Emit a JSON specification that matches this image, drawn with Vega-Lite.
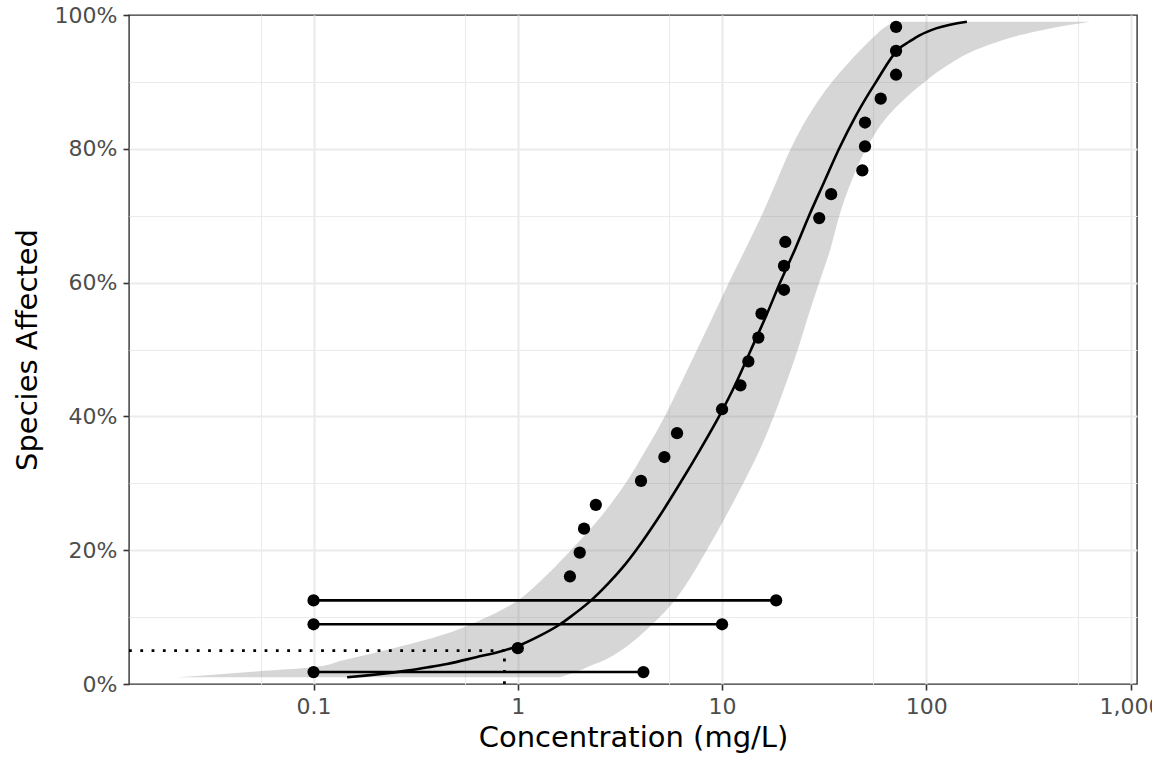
{
  "$schema": "https://vega.github.io/schema/vega-lite/v6.json",
  "width": 1008,
  "height": 669,
  "autosize": {"type": "none"},
  "padding": {"left": 129, "top": 15, "right": 15, "bottom": 84},
  "background": "white",
  "config": {
    "view": {"stroke": "#333333", "strokeWidth": 1.4},
    "font": "DejaVu Sans"
  },
  "datasets": {
    "ribbon": [
      {"p": 0.01, "lcl": 0.0214, "ucl": 1.6},
      {"p": 0.015, "lcl": 0.036, "ucl": 1.8},
      {"p": 0.02, "lcl": 0.06, "ucl": 2.0},
      {"p": 0.025, "lcl": 0.1, "ucl": 2.18},
      {"p": 0.035, "lcl": 0.138, "ucl": 2.63},
      {"p": 0.05, "lcl": 0.222, "ucl": 3.2},
      {"p": 0.075, "lcl": 0.446, "ucl": 4.06},
      {"p": 0.1, "lcl": 0.708, "ucl": 4.95},
      {"p": 0.125, "lcl": 1.0, "ucl": 5.86},
      {"p": 0.15, "lcl": 1.25, "ucl": 6.7},
      {"p": 0.2, "lcl": 1.82, "ucl": 8.41},
      {"p": 0.25, "lcl": 2.55, "ucl": 10.4},
      {"p": 0.3, "lcl": 3.37, "ucl": 12.7},
      {"p": 0.35, "lcl": 4.24, "ucl": 15.3},
      {"p": 0.4, "lcl": 5.24, "ucl": 17.9},
      {"p": 0.45, "lcl": 6.3, "ucl": 20.6},
      {"p": 0.5, "lcl": 7.55, "ucl": 23.5},
      {"p": 0.55, "lcl": 9.04, "ucl": 26.4},
      {"p": 0.6, "lcl": 10.8, "ucl": 29.9},
      {"p": 0.65, "lcl": 13.0, "ucl": 33.9},
      {"p": 0.7, "lcl": 15.6, "ucl": 37.5},
      {"p": 0.75, "lcl": 18.4, "ucl": 42.8},
      {"p": 0.8, "lcl": 21.7, "ucl": 50.8},
      {"p": 0.85, "lcl": 26.6, "ucl": 65.3},
      {"p": 0.9, "lcl": 34.5, "ucl": 98},
      {"p": 0.925, "lcl": 40.6, "ucl": 127},
      {"p": 0.95, "lcl": 48.4, "ucl": 181.5},
      {"p": 0.97, "lcl": 56.5, "ucl": 289},
      {"p": 0.98, "lcl": 61.4, "ucl": 403},
      {"p": 0.99, "lcl": 70, "ucl": 633}
    ],
    "curve": [
      {"conc": 0.146, "p": 0.01},
      {"conc": 0.1789, "p": 0.0125},
      {"conc": 0.2143, "p": 0.015},
      {"conc": 0.2871, "p": 0.02},
      {"conc": 0.3638, "p": 0.025},
      {"conc": 0.4506, "p": 0.03},
      {"conc": 0.6249, "p": 0.04},
      {"conc": 0.855, "p": 0.05},
      {"conc": 1.0034, "p": 0.057},
      {"conc": 1.243, "p": 0.07},
      {"conc": 1.611, "p": 0.0893},
      {"conc": 1.803, "p": 0.1},
      {"conc": 2.285, "p": 0.125},
      {"conc": 2.767, "p": 0.15},
      {"conc": 3.277, "p": 0.175},
      {"conc": 3.793, "p": 0.2},
      {"conc": 4.917, "p": 0.25},
      {"conc": 6.229, "p": 0.3},
      {"conc": 7.804, "p": 0.35},
      {"conc": 9.667, "p": 0.4},
      {"conc": 11.71, "p": 0.45},
      {"conc": 13.87, "p": 0.5},
      {"conc": 16.42, "p": 0.55},
      {"conc": 19.23, "p": 0.6},
      {"conc": 22.77, "p": 0.65},
      {"conc": 26.66, "p": 0.7},
      {"conc": 31.57, "p": 0.75},
      {"conc": 37.39, "p": 0.8},
      {"conc": 45.29, "p": 0.85},
      {"conc": 56.74, "p": 0.9},
      {"conc": 73.5, "p": 0.95},
      {"conc": 82.3, "p": 0.96},
      {"conc": 93.15, "p": 0.97},
      {"conc": 111.6, "p": 0.98},
      {"conc": 158, "p": 0.99}
    ],
    "points": [
      {"conc": 1.0, "p": 0.05357},
      {"conc": 1.80, "p": 0.16071},
      {"conc": 2.01, "p": 0.19643},
      {"conc": 2.11, "p": 0.23214},
      {"conc": 2.41, "p": 0.26786},
      {"conc": 4.01, "p": 0.30357},
      {"conc": 5.22, "p": 0.33929},
      {"conc": 6.02, "p": 0.375},
      {"conc": 10.0, "p": 0.41071},
      {"conc": 12.3, "p": 0.44643},
      {"conc": 13.45, "p": 0.48214},
      {"conc": 15.06, "p": 0.51786},
      {"conc": 15.6, "p": 0.55357},
      {"conc": 20.1, "p": 0.58929},
      {"conc": 20.1, "p": 0.625},
      {"conc": 20.4, "p": 0.66071},
      {"conc": 29.9, "p": 0.69643},
      {"conc": 34.2, "p": 0.73214},
      {"conc": 48.6, "p": 0.76786},
      {"conc": 50.1, "p": 0.80357},
      {"conc": 50.1, "p": 0.83929},
      {"conc": 59.8, "p": 0.875},
      {"conc": 71.1, "p": 0.91071},
      {"conc": 71.1, "p": 0.94643},
      {"conc": 71.1, "p": 0.98214}
    ],
    "censored": [
      {"left": 0.1, "right": 4.12, "p": 0.01786},
      {"left": 0.1, "right": 10.0, "p": 0.08929},
      {"left": 0.1, "right": 18.4, "p": 0.125}
    ],
    "hc": [
      {"start": 0.01249, "hc5": 0.86, "p0": 0, "p": 0.05}
    ]
  },
  "layer": [
    {
      "data": {"name": "ribbon"},
      "mark": {"type": "area", "orient": "horizontal", "interpolate": "monotone", "color": "#777777", "opacity": 0.3},
      "encoding": {
        "y": {
          "field": "p", "type": "quantitative",
          "scale": {"type": "linear", "domain": [0, 1], "nice": false, "zero": false},
          "title": "Species Affected",
          "axis": {
            "values": [0, 0.1, 0.2, 0.3, 0.4, 0.5, 0.6, 0.7, 0.8, 0.9, 1],
            "format": ".0%",
            "labelExpr": "indexof([0, 0.2, 0.4, 0.6, 0.8, 1], datum.value) >= 0 ? datum.label : ''",
            "domain": false,
            "grid": true,
            "gridColor": "#EBEBEB",
            "gridWidth": {"condition": {"test": "indexof([0, 0.2, 0.4, 0.6, 0.8, 1], datum.value) >= 0", "value": 2.2}, "value": 1.1},
            "gridOpacity": {"condition": {"test": "datum.value == 0 || datum.value == 1", "value": 0}, "value": 1},
            "tickColor": "#333333",
            "tickWidth": 1.6,
            "tickSize": 6,
            "tickOpacity": {"condition": {"test": "indexof([0, 0.2, 0.4, 0.6, 0.8, 1], datum.value) >= 0", "value": 1}, "value": 0},
            "labelFont": "DejaVu Sans",
            "labelFontSize": 22,
            "labelColor": "#4D4D4D",
            "labelPadding": 6,
            "labelOverlap": false,
            "labelFlush": false,
            "labelBound": false,
            "titleFont": "DejaVu Sans",
            "titleFontSize": 29,
            "titleFontWeight": "normal",
            "titleColor": "#000000",
            "titlePadding": 12
          }
        },
        "x": {
          "field": "lcl", "type": "quantitative",
          "scale": {"type": "log", "domain": [0.01249, 1075], "nice": false},
          "title": "Concentration (mg/L)",
          "axis": {
            "values": [0.055, 0.1, 0.55, 1, 5.5, 10, 55, 100, 550, 1000],
            "format": ",",
            "labelExpr": "indexof([0.1, 1, 10, 100, 1000], datum.value) >= 0 ? datum.label : ''",
            "domain": false,
            "grid": true,
            "gridColor": "#EBEBEB",
            "gridWidth": {"condition": {"test": "indexof([0.1, 1, 10, 100, 1000], datum.value) >= 0", "value": 2.2}, "value": 1.1},
            "tickColor": "#333333",
            "tickWidth": 1.6,
            "tickSize": 6,
            "tickOpacity": {"condition": {"test": "indexof([0.1, 1, 10, 100, 1000], datum.value) >= 0", "value": 1}, "value": 0},
            "labelFont": "DejaVu Sans",
            "labelFontSize": 22,
            "labelColor": "#4D4D4D",
            "labelPadding": 6,
            "labelOverlap": false,
            "labelFlush": false,
            "labelBound": false,
            "titleFont": "DejaVu Sans",
            "titleFontSize": 29,
            "titleFontWeight": "normal",
            "titleColor": "#000000",
            "titlePadding": 6
          }
        },
        "x2": {"field": "ucl"}
      }
    },
    {
      "data": {"name": "curve"},
      "mark": {"type": "line", "color": "#000000", "strokeWidth": 2.6, "interpolate": "monotone"},
      "encoding": {
        "x": {"field": "conc", "type": "quantitative", "title": "Concentration (mg/L)"},
        "y": {"field": "p", "type": "quantitative", "title": "Species Affected"}
      }
    },
    {
      "data": {"name": "hc"},
      "mark": {"type": "rule", "color": "#000000", "strokeWidth": 2.8, "strokeDash": [2.8, 8.5], "strokeCap": "butt"},
      "encoding": {
        "x": {"field": "start", "type": "quantitative", "title": "Concentration (mg/L)"},
        "x2": {"field": "hc5"},
        "y": {"field": "p", "type": "quantitative", "title": "Species Affected"}
      }
    },
    {
      "data": {"name": "hc"},
      "mark": {"type": "rule", "color": "#000000", "strokeWidth": 2.8, "strokeDash": [2.8, 8.5], "strokeCap": "butt"},
      "encoding": {
        "x": {"field": "hc5", "type": "quantitative", "title": "Concentration (mg/L)"},
        "y": {"field": "p0", "type": "quantitative", "title": "Species Affected"},
        "y2": {"field": "p"}
      }
    },
    {
      "data": {"name": "censored"},
      "mark": {"type": "rule", "color": "#000000", "strokeWidth": 2.6},
      "encoding": {
        "x": {"field": "left", "type": "quantitative", "title": "Concentration (mg/L)"},
        "x2": {"field": "right"},
        "y": {"field": "p", "type": "quantitative", "title": "Species Affected"}
      }
    },
    {
      "data": {"name": "censored"},
      "mark": {"type": "point", "filled": true, "color": "#000000", "opacity": 1, "size": 150},
      "encoding": {
        "x": {"field": "left", "type": "quantitative", "title": "Concentration (mg/L)"},
        "y": {"field": "p", "type": "quantitative", "title": "Species Affected"}
      }
    },
    {
      "data": {"name": "censored"},
      "mark": {"type": "point", "filled": true, "color": "#000000", "opacity": 1, "size": 150},
      "encoding": {
        "x": {"field": "right", "type": "quantitative", "title": "Concentration (mg/L)"},
        "y": {"field": "p", "type": "quantitative", "title": "Species Affected"}
      }
    },
    {
      "data": {"name": "points"},
      "mark": {"type": "point", "filled": true, "color": "#000000", "opacity": 1, "size": 150},
      "encoding": {
        "x": {"field": "conc", "type": "quantitative", "title": "Concentration (mg/L)"},
        "y": {"field": "p", "type": "quantitative", "title": "Species Affected"}
      }
    }
  ]
}
